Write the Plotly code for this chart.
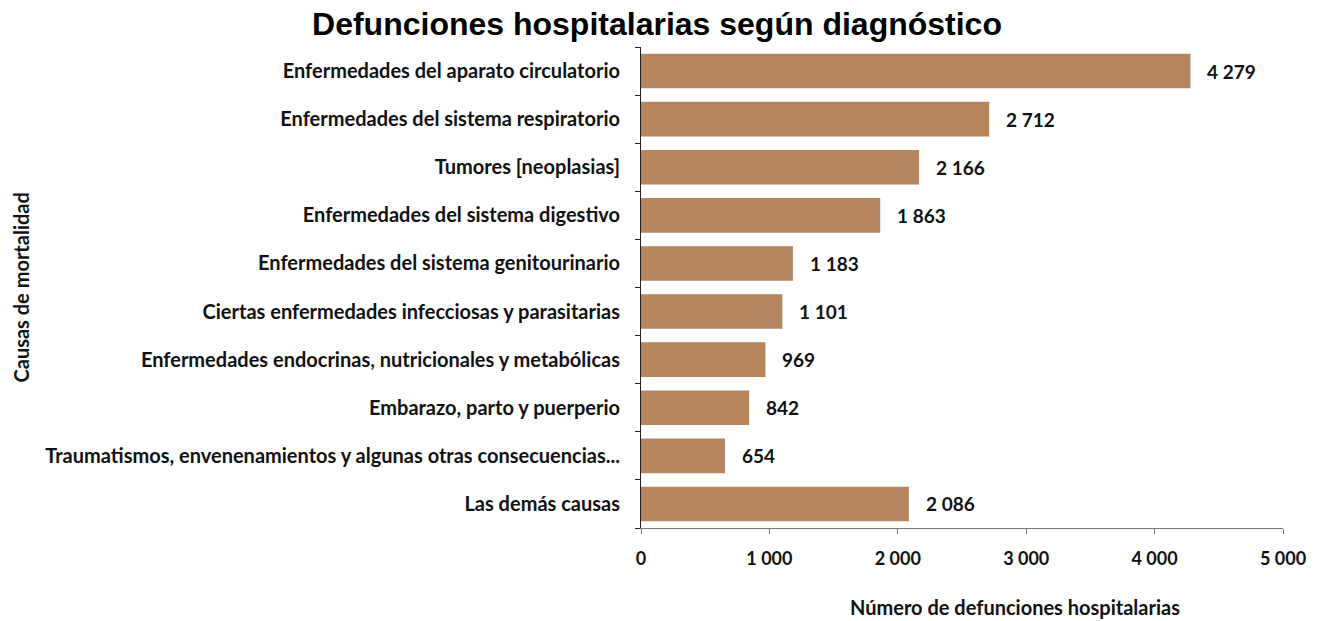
import plotly.graph_objects as go

categories = [
    "Enfermedades del aparato circulatorio",
    "Enfermedades del sistema respiratorio",
    "Tumores [neoplasias]",
    "Enfermedades del sistema digestivo",
    "Enfermedades del sistema genitourinario",
    "Ciertas enfermedades infecciosas y parasitarias",
    "Enfermedades endocrinas, nutricionales y metabólicas",
    "Embarazo, parto y puerperio",
    "Traumatismos, envenenamientos y algunas otras consecuencias...",
    "Las demás causas",
]
values = [4279, 2712, 2166, 1863, 1183, 1101, 969, 842, 654, 2086]
x_ticks = [0, 1000, 2000, 3000, 4000, 5000]

FAM = "Lato, Open Sans, sans-serif"
cat_font = dict(family=FAM, size=20, color="#111111")
val_font = dict(family=FAM, size=19, color="#111111")
tick_font = dict(family=FAM, size=18, color="#111111")
ttl_font = dict(family=FAM, size=20, color="#111111")


def fmt(n):
    return f"{n:,}".replace(",", " ")


fig = go.Figure()
fig.add_trace(go.Bar(
    x=values, y=categories, orientation="h",
    marker=dict(color="#B5855F", line=dict(width=0)),
    width=0.72,
    hoverinfo="x+y",
))

for c, v in zip(categories, values):
    fig.add_annotation(
        x=v, y=c, text=f"<b>{fmt(v)}</b>",
        xanchor="left", yanchor="middle", xshift=15, showarrow=False,
        font=val_font,
    )

fig.add_annotation(
    xref="paper", yref="paper", x=0.5826, y=-0.164, yanchor="middle",
    text="<b>Número de defunciones hospitalarias</b>", showarrow=False,
    font=ttl_font,
)
fig.add_annotation(
    xref="paper", yref="paper", x=0, xshift=-621, y=0.5,
    text="<b>Causas de mortalidad</b>", showarrow=False, textangle=-90,
    font=ttl_font, xanchor="center", yanchor="middle",
)

fig.update_layout(
    width=1323, height=621,
    paper_bgcolor="white", plot_bgcolor="white",
    margin=dict(l=641, r=40, t=47, b=93),
    separators=". ",
    showlegend=False,
    title=dict(
        text="<b>Defunciones hospitalarias según diagnóstico</b>",
        x=657 / 1323, xanchor="center", y=1 - 24 / 621, yanchor="middle",
        font=dict(family="Liberation Sans, Arial, sans-serif", size=32, color="#000000"),
    ),
    xaxis=dict(
        range=[0, 5000], tickvals=x_ticks,
        ticktext=[f"<b>{fmt(t)}</b>" for t in x_ticks],
        showgrid=False, zeroline=False,
        showline=True, linecolor="#777777", linewidth=1,
        ticks="outside", ticklen=5, tickcolor="#777777",
        ticklabelstandoff=9,
        tickfont=tick_font,
    ),
    yaxis=dict(
        autorange="reversed", type="category",
        showgrid=False, zeroline=False,
        showline=True, linecolor="#222222", linewidth=1,
        ticks="outside", ticklen=5, tickcolor="#222222", tickson="boundaries",
        ticklabelstandoff=16,
        tickfont=cat_font,
        tickvals=categories,
        ticktext=[f"<b>{c}</b>" for c in categories],
    ),
)

fig.write_html("out.html", config={"displayModeBar": False},
               post_script="document.body.style.margin='0px';")
